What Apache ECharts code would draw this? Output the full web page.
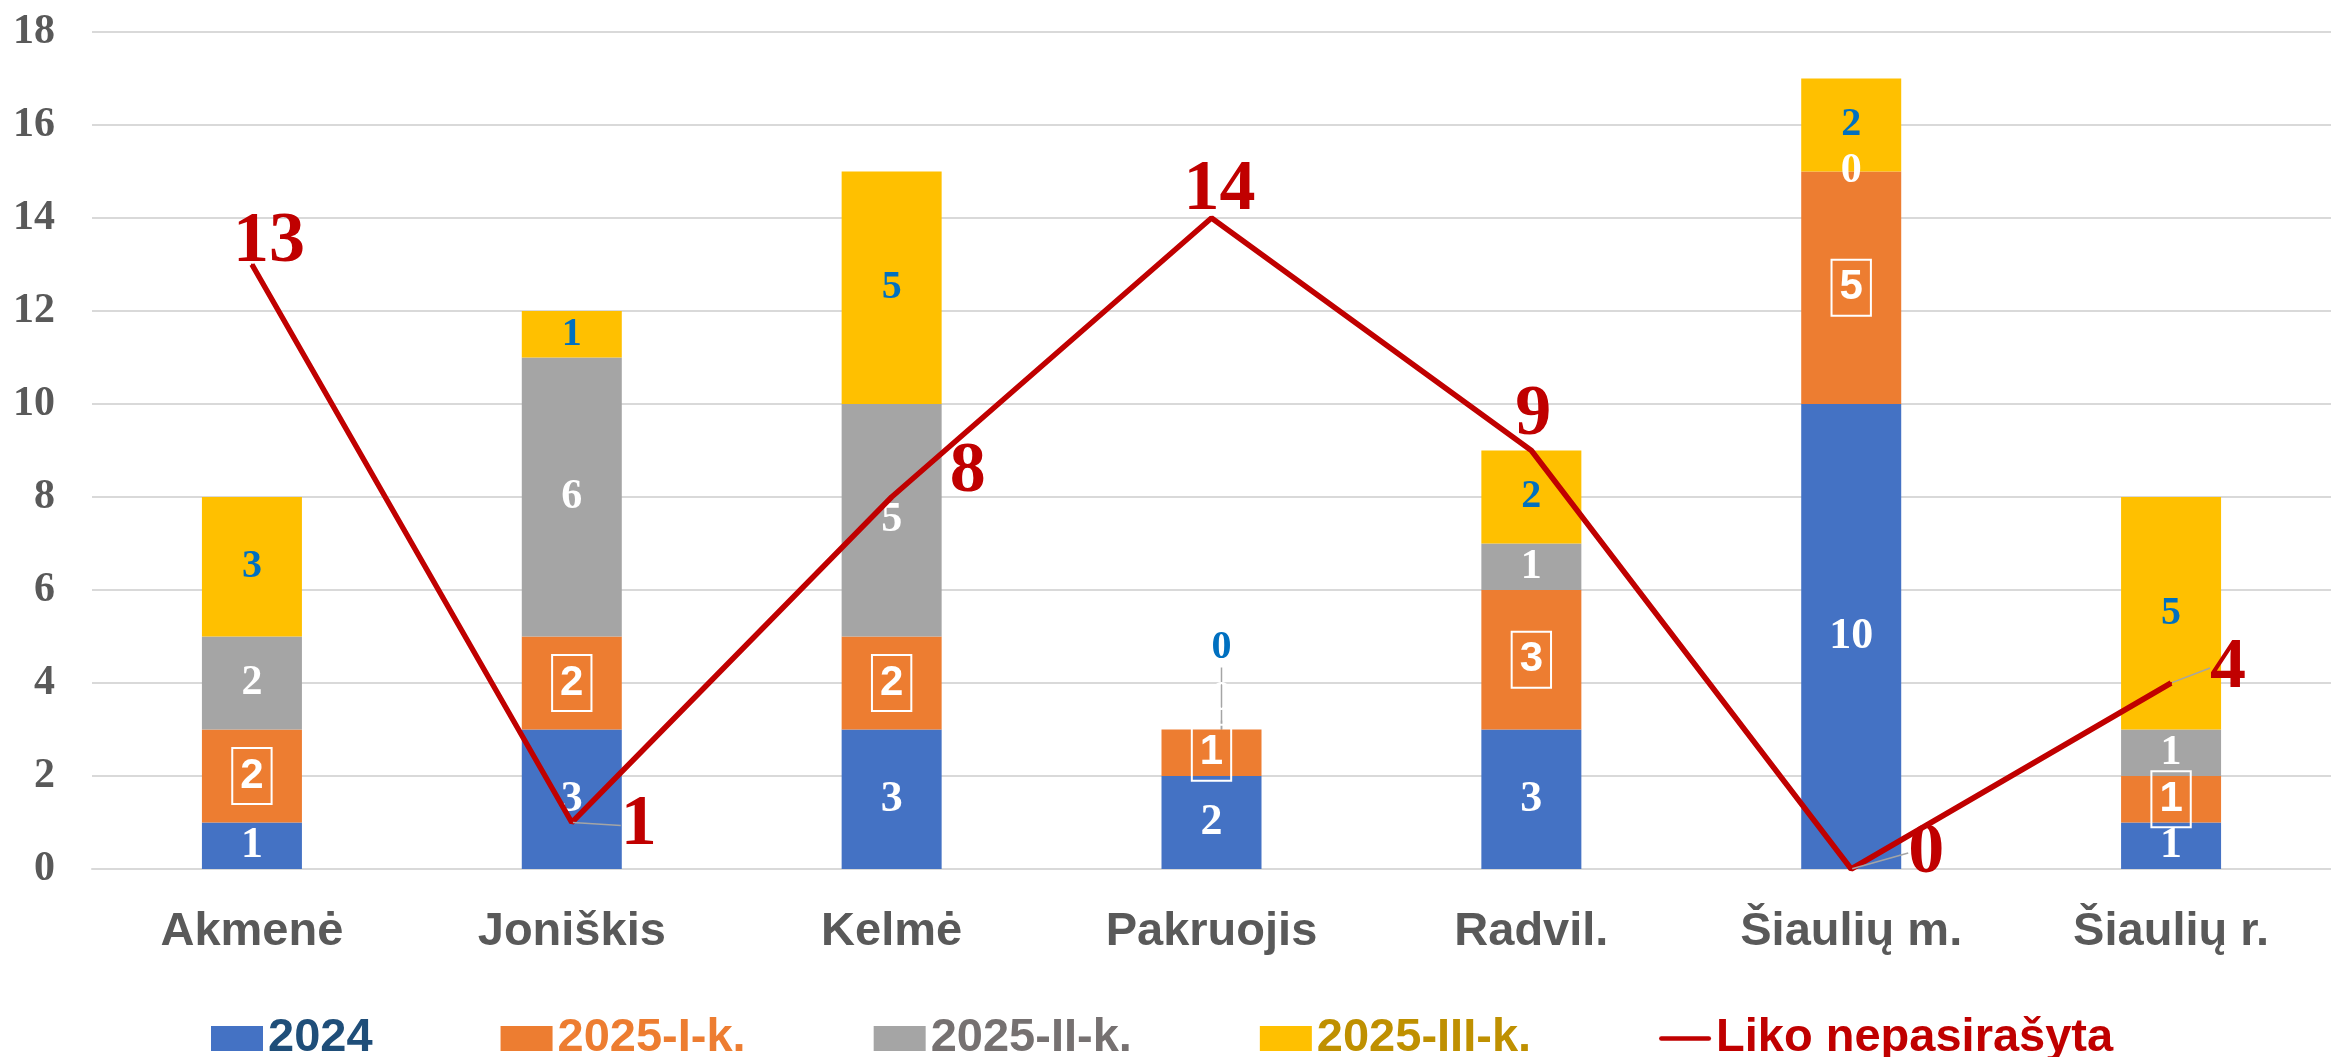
<!DOCTYPE html>
<html>
<head>
<meta charset="utf-8">
<script src="https://cdn.jsdelivr.net/npm/echarts@6/dist/echarts.min.js"></script>
<style>
  html, body { margin: 0; padding: 0; background: #fff; }
  #main { width: 2331px; height: 1057px; }
</style>
</head>
<body>
<div id="main"></div>
<script>
// kategorijos ir reikšmės
const categories = ['Akmenė', 'Joniškis', 'Kelmė', 'Pakruojis', 'Radvil.', 'Šiaulių m.', 'Šiaulių r.'];
const s2024 = [1, 3, 3, 2, 3, 10, 1];
const s2025I = [2, 2, 2, 1, 3, 5, 1];
const s2025II = [2, 6, 5, 0, 1, 0, 1];
const s2025III = [3, 1, 5, 0, 2, 2, 5];
const liko = [13, 1, 8, 14, 9, 0, 4];
const yTicks = [0, 2, 4, 6, 8, 10, 12, 14, 16, 18];

// etikečių poslinkiai (stilius, ne duomenys)
const likoShift = [[17, -22], [67, 3], [76, -25], [8, -28], [2, -35], [75, -16], [57, -15]];
const likoGuide = [1, 5, 6];

const serif = 'Liberation Serif';
const sans = 'Liberation Sans';
const guideStyle = { color: '#A5A5A5', width: 1.5 };

const chart = echarts.init(document.getElementById('main'), null, { renderer: 'canvas' });

function barSeries(name, data, color, label, extra) {
  return Object.assign({
    name: name,
    type: 'bar',
    stack: 'total',
    barWidth: 100,
    data: data,
    itemStyle: { color: color },
    label: Object.assign({ show: true, position: 'inside' }, label)
  }, extra || {});
}

const option = {
  animation: false,
  grid: { left: 92, top: 32, width: 2250, height: 837 },
  legend: {
    left: 206,
    top: 1010,
    itemWidth: 52,
    itemHeight: 25,
    itemGap: 128,
    textStyle: { fontFamily: sans, fontWeight: 'bold', fontSize: 47 },
    data: [
      { name: '2024', icon: 'rect', textStyle: { color: '#1F4E79' } },
      { name: '2025-I-k.', icon: 'rect', textStyle: { color: '#ED7D31' } },
      { name: '2025-II-k.', icon: 'rect', textStyle: { color: '#767171' } },
      { name: '2025-III-k.', icon: 'rect', textStyle: { color: '#BF9000' } },
      { name: 'Liko nepasirašyta', icon: 'path://M2,0 H53 A2,2 0 0 1 53,5 H2 A2,2 0 0 1 2,0 Z', itemStyle: { color: '#C00000' }, textStyle: { color: '#C00000' } }
    ]
  },
  xAxis: {
    type: 'category',
    data: categories,
    axisTick: { show: false },
    axisLine: { show: true, lineStyle: { color: '#D9D9D9', width: 2 } },
    axisLabel: { color: '#595959', fontFamily: sans, fontWeight: 'bold', fontSize: 47, margin: 40 }
  },
  yAxis: {
    type: 'value',
    min: yTicks[0],
    max: yTicks[yTicks.length - 1],
    interval: 2,
    axisLine: { show: false },
    axisTick: { show: false },
    splitLine: { lineStyle: { color: '#D9D9D9', width: 2 } },
    axisLabel: { color: '#595959', fontFamily: serif, fontWeight: 'bold', fontSize: 42, margin: 37 }
  },
  series: [
    barSeries('2024', s2024, '#4472C4', { color: '#fff', fontFamily: serif, fontWeight: 'bold', fontSize: 44 }),
    barSeries('2025-I-k.', s2025I, '#ED7D31', {
      color: '#fff', fontFamily: sans, fontWeight: 'bold', fontSize: 42,
      borderColor: '#fff', borderWidth: 2, padding: [7, 8]
    }),
    barSeries('2025-II-k.', s2025II.map((v, i) => i === 3 ? { value: v, labelLine: { show: true } } : v), '#A5A5A5',
      { color: '#fff', fontFamily: serif, fontWeight: 'bold', fontSize: 42 },
      {
        labelLine: { show: false, lineStyle: guideStyle },
        labelLayout: function (p) { if (p.dataIndex === 3) return { dx: 10, dy: -30 }; }
      }),
    barSeries('2025-III-k.', s2025III.map((v, i) => i === 3 ? { value: v, labelLine: { show: true } } : v), '#FFC000',
      { color: '#0070C0', fontFamily: serif, fontWeight: 'bold', fontSize: 40 },
      {
        labelLine: { show: false, lineStyle: guideStyle },
        labelLayout: function (p) { if (p.dataIndex === 3) return { dx: 10, dy: -82 }; }
      }),
    {
      name: 'Liko nepasirašyta',
      type: 'line',
      data: liko.map((v, i) => ({ value: v, labelLine: { show: likoGuide.indexOf(i) >= 0 } })),
      symbol: 'circle',
      symbolSize: 2,
      itemStyle: { color: '#C00000' },
      lineStyle: { color: '#C00000', width: 5.5 },
      z: 5,
      label: {
        show: true,
        position: 'inside',
        color: '#C00000',
        fontFamily: serif,
        fontWeight: 'bold',
        fontSize: 72
      },
      labelLine: { show: false, lineStyle: guideStyle },
      labelLayout: function (p) {
        const s = likoShift[p.dataIndex];
        return { dx: s[0], dy: s[1] };
      }
    }
  ]
};

chart.setOption(option);
</script>
</body>
</html>
